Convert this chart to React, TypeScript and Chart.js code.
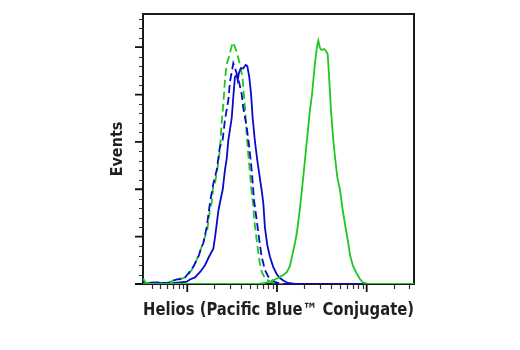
import React, { useEffect, useRef } from 'react';
import { Chart, registerables } from 'chart.js';

Chart.register(...registerables);

// Helios positive (green solid)
const greenSolidX = [32.2, 34.6, 37, 568, 614, 735, 836, 950, 1080, 1197, 1293, 1396, 1508, 1588, 1671, 1805, 1964, 2143, 2333, 2456, 2652, 2792, 2887, 3016, 3150, 3342, 3518, 3675, 3799, 3999, 4243, 4432, 4701, 5039, 5401, 5878, 6235, 6513, 7036, 7735, 8419, 9094, 10340, 14070, 33700];
const greenSolidY = [6, 0.5, 0, 0, 0.2, 1.1, 2.4, 4.8, 7.4, 10.0, 12.7, 19.0, 33.8, 43.3, 54.9, 80.2, 113.0, 148.8, 183.7, 199.5, 233.3, 250.2, 256.8, 249.1, 247.0, 248.1, 246.0, 242.8, 220.6, 183.7, 152.0, 134.1, 113.0, 99.2, 78.1, 57.0, 43.3, 30.6, 19.0, 11.1, 5.3, 1.6, 0.2, 0, 0];

// blue solid
const blueSolidX = [32.1, 35.5, 40.4, 47.1, 53.6, 64.1, 72.9, 82.9, 98.5, 107, 122, 139, 150, 158, 171, 187, 195, 204, 213, 222, 231, 248, 263, 275, 287, 299, 313, 326, 340, 355, 365, 377, 394, 421, 448, 467, 491, 513, 536, 569, 603, 635, 675, 704, 735, 780, 836, 910, 992, 1080, 1175, 1326, 1588, 33700];
const blueSolidY = [2.6, 0.5, 1.3, 1.6, 0.5, 0.5, 1.1, 1.6, 2.4, 4.8, 6.9, 12.7, 16.9, 20.1, 26.9, 34.1, 36.9, 49.6, 63.3, 77.1, 85.5, 99.2, 120.3, 132.0, 152.0, 163.0, 175.2, 197.4, 218.5, 220.6, 215.3, 222.7, 227.7, 227.7, 231.2, 230.1, 218.5, 201.6, 175.2, 149.9, 130.9, 116.1, 99.2, 85.5, 59.1, 41.2, 28.5, 17.9, 10.6, 6.3, 3.7, 1.1, 0, 0];

// blue dashed
const blueDashedX = [32.1, 38.4, 49.6, 60.9, 67.5, 76.8, 87.3, 94.3, 103, 117, 133, 145, 151, 165, 179, 195, 213, 231, 248, 263, 287, 299, 313, 326, 340, 355, 380, 404, 421, 460, 491, 522, 544, 554, 594, 635, 675, 735, 800, 873, 975, 1137, 1396, 33700];
const blueDashedY = [2.1, 1.3, 1.1, 1.1, 3.2, 4.8, 5.3, 6.9, 11.3, 18.3, 28.8, 39.4, 43.0, 60.5, 85.5, 105.6, 120.3, 144.6, 152.0, 173.1, 194.2, 213.2, 223.8, 233.0, 228.0, 222.4, 212.2, 200.6, 185.8, 165.7, 144.6, 120.3, 99.2, 88.7, 67.6, 46.4, 28.8, 14.8, 7.7, 4.2, 1.6, 0.2, 0, 0];

// green dashed
const greenDashedX = [32.1, 38.4, 49.6, 60.9, 67.5, 76.8, 87.3, 98.5, 112, 127, 145, 167, 179, 187, 195, 204, 220, 231, 242, 252, 263, 275, 294, 311, 323, 336, 349, 370, 394, 415, 432, 448, 460, 479, 500, 522, 544, 554, 594, 635, 675, 735, 800, 880, 1026, 1228, 33700];
const greenDashedY = [1.1, 0.5, 0.5, 1.1, 3.2, 5.3, 5.8, 7.7, 14.8, 25.3, 39.4, 57.0, 78.1, 85.5, 103.4, 106.6, 125.6, 141.5, 171.0, 189.0, 215.3, 232.2, 240.7, 250.2, 254.9, 251.2, 247.0, 238.6, 229.1, 215.3, 194.2, 176.3, 157.3, 136.2, 118.2, 96.1, 83.4, 70.7, 46.4, 25.3, 13.0, 6.0, 3.7, 1.6, 0.3, 0, 0];

// axis ticks
const xMajorTicks = [100, 1000, 10000];
const xMinorTicks = [40, 50, 60, 70, 80, 90, 200, 300, 400, 500, 600, 700, 800, 900, 2000, 3000, 4000, 5000, 6000, 7000, 8000, 9000, 20000, 30000];
const yMajorTicks = [0, 50, 100, 150, 200, 250];
const yMinorTicks = [10, 20, 30, 40, 60, 70, 80, 90, 110, 120, 130, 140, 160, 170, 180, 190, 210, 220, 230, 240, 260, 270, 280];

const xTitle = 'Helios (Pacific Blue™ Conjugate)';
const yTitle = 'Events';

const GREEN = '#1ec81e';
const BLUE = '#0a0acc';
const FONT = "'Liberation Sans Narrow', 'Arial Narrow', 'DejaVu Sans Condensed', 'Liberation Sans', sans-serif";

const toPoints = (xs: number[], ys: number[]) => xs.map((x, i) => ({ x, y: ys[i] }));

const frameTicksPlugin = {
  id: 'frameTicks',
  beforeDatasetsDraw(chart: any) {
    const { ctx, chartArea: a, scales } = chart;
    const xs = scales.x;
    const ys = scales.y;
    ctx.save();
    // minor ticks
    ctx.strokeStyle = '#333333';
    ctx.lineWidth = 1.2;
    ctx.beginPath();
    xMinorTicks.forEach((v) => {
      const px = Math.round(xs.getPixelForValue(v)) + 0.5;
      ctx.moveTo(px, a.bottom);
      ctx.lineTo(px, a.bottom + 5);
    });
    yMinorTicks.forEach((v) => {
      const py = Math.round(ys.getPixelForValue(v)) + 0.5;
      ctx.moveTo(a.left, py);
      ctx.lineTo(a.left - 4, py);
    });
    ctx.stroke();
    // major ticks
    ctx.strokeStyle = '#111111';
    ctx.lineWidth = 1.8;
    ctx.beginPath();
    xMajorTicks.forEach((v) => {
      const px = xs.getPixelForValue(v);
      ctx.moveTo(px, a.bottom);
      ctx.lineTo(px, a.bottom + 8);
    });
    yMajorTicks.forEach((v) => {
      const py = ys.getPixelForValue(v);
      ctx.moveTo(a.left, py);
      ctx.lineTo(a.left - 8, py);
    });
    ctx.stroke();
    // frame
    ctx.strokeStyle = '#1a1a1a';
    ctx.lineWidth = 2;
    ctx.strokeRect(a.left, a.top, a.right - a.left, a.bottom - a.top);
    ctx.restore();
  },
};

export default function App() {
  const ref = useRef<HTMLCanvasElement | null>(null);

  useEffect(() => {
    if (!ref.current) return;
    const common = { pointRadius: 0, borderWidth: 1.8, tension: 0, fill: false };
    const chart = new Chart(ref.current, {
      type: 'line',
      data: {
        datasets: [
          { ...common, label: 'Positive', data: toPoints(greenSolidX, greenSolidY), borderColor: GREEN },
          { ...common, label: 'Blue solid', data: toPoints(blueSolidX, blueSolidY), borderColor: BLUE },
          { ...common, label: 'Blue dashed', data: toPoints(blueDashedX, blueDashedY), borderColor: BLUE, borderDash: [8, 4], borderDashOffset: 5 },
          { ...common, label: 'Green dashed', data: toPoints(greenDashedX, greenDashedY), borderColor: GREEN, borderDash: [8, 4] },
        ],
      },
      options: {
        animation: false,
        responsive: false,
        events: [],
        layout: { padding: { left: 102, right: 106, top: 14, bottom: 0 } },
        plugins: { legend: { display: false }, tooltip: { enabled: false }, title: { display: false } },
        scales: {
          x: {
            type: 'logarithmic',
            min: 32.1,
            max: 33700,
            grid: { display: false, drawTicks: false },
            border: { display: false },
            ticks: { display: false },
            title: {
              display: true,
              text: xTitle,
              color: '#231f20',
              font: { family: FONT, size: 17, weight: 'bold', lineHeight: 1.2 },
              padding: { top: 16.8, bottom: 28.8 },
            },
          },
          y: {
            type: 'linear',
            min: 0,
            max: 285,
            grid: { display: false, drawTicks: false },
            border: { display: false },
            ticks: { display: false },
            title: {
              display: true,
              text: yTitle,
              color: '#231f20',
              font: { family: FONT, size: 16, weight: 'bold', lineHeight: 1.2 },
              padding: { top: 5.9, bottom: 15.9 },
            },
          },
        },
      },
      plugins: [frameTicksPlugin],
    });
    return () => chart.destroy();
  }, []);

  return (
    <div style={{ position: 'absolute', left: 0, top: 0, width: 520, height: 350, background: '#ffffff' }}>
      <canvas ref={ref} width={520} height={350} />
    </div>
  );
}
